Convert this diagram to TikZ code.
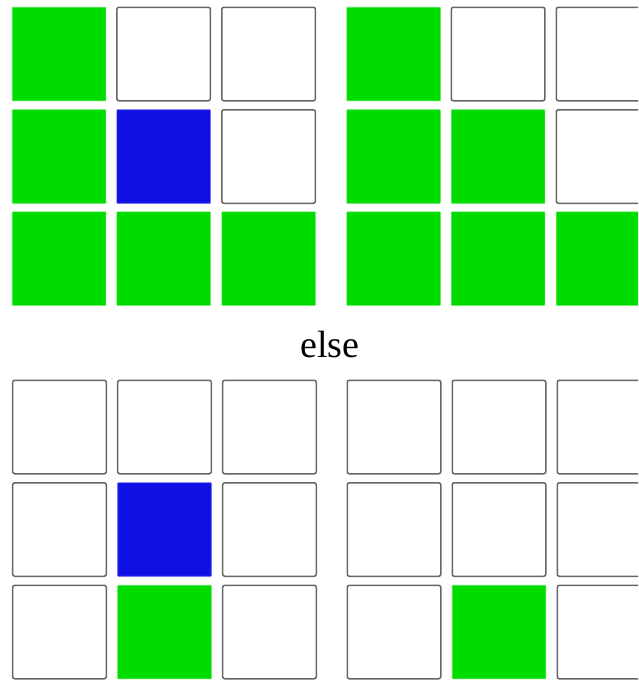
\documentclass[tikz,border=0pt]{standalone}
\usepackage{fontspec}
\setmainfont{Liberation Serif}
\usepackage{xcolor}
\definecolor{CellGreen}{HTML}{00DC00}
\definecolor{CellBlue}{HTML}{1010E4}
\definecolor{CellEdge}{HTML}{666666}
\usepackage{tikz}
\usetikzlibrary{matrix, positioning}

\begin{document}
\begin{tikzpicture}[
    x=1pt, y=1pt,
    grid/.style={matrix of nodes, nodes in empty cells, inner sep=0pt, outer sep=0pt,
                 column sep=10pt, row sep=7.5pt,
                 nodes={W}},
    W/.style={draw=CellEdge, fill=white, line width=1.5pt, rounded corners=2pt,
              minimum size=93.5pt, inner sep=0pt},
    G/.style={W, draw=CellGreen!70, fill=CellGreen, line width=0.6pt, rounded corners=0.5pt},
    B/.style={W, draw=CellBlue!70, fill=CellBlue, line width=0.6pt, rounded corners=0.5pt}
  ]
    \useasboundingbox (0,0) rectangle (638,-680);
    \clip (0,0) rectangle (638,-680);

    % upper pair
    \matrix[grid, anchor=north west] (tl) at (12,-6.5) {
      |[G]| & & \\
      |[G]| & |[B]| & \\
      |[G]| & |[G]| & |[G]| \\
    };
    \matrix[grid, anchor=north west] (tr) at (346.5,-6.5) {
      |[G]| & & \\
      |[G]| & |[G]| & \\
      |[G]| & |[G]| & |[G]| \\
    };

    \node[font=\fontsize{38}{44}\selectfont, anchor=base] (else) at (330,-357) {else};

    % lower pair
    \matrix[grid, anchor=north west] (bl) at (12,-379.5) {
      & & \\
      & |[B]| & \\
      & |[G]| & \\
    };
    \matrix[grid, anchor=north west] (br) at (346.5,-379.5) {
      & & \\
      & & \\
      & |[G]| & \\
    };
  \end{tikzpicture}
\end{document}
